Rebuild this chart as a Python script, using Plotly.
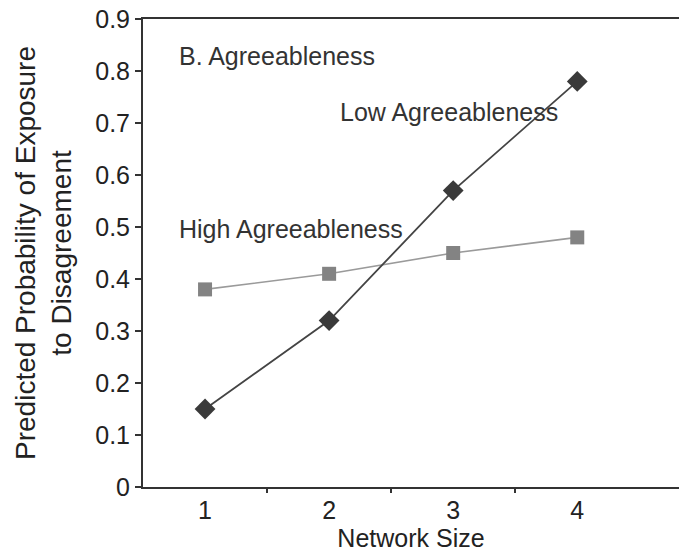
import plotly.graph_objects as go

network_size = [1, 2, 3, 4]
low_agree = [0.15, 0.32, 0.57, 0.78]
high_agree = [0.38, 0.41, 0.45, 0.48]
y_ticks = [0, 0.1, 0.2, 0.3, 0.4, 0.5, 0.6, 0.7, 0.8, 0.9]
y_tick_text = ["0", "0.1", "0.2", "0.3", "0.4", "0.5", "0.6", "0.7", "0.8", "0.9"]

FONT = "Liberation Sans, Arial, sans-serif"

fig = go.Figure()
fig.add_trace(go.Scatter(
    x=network_size, y=high_agree, mode="lines+markers",
    line=dict(color="#9a9a9a", width=1.6),
    marker=dict(symbol="square", size=14, color="#838383"),
    showlegend=False, cliponaxis=False))
fig.add_trace(go.Scatter(
    x=network_size, y=low_agree, mode="lines+markers",
    line=dict(color="#444444", width=1.8),
    marker=dict(symbol="diamond", size=16, color="#3a3a3a"),
    showlegend=False, cliponaxis=False))

ann_font = dict(family=FONT, size=25, color="#333333")
fig.add_annotation(x=0.77, y=0.828, text="B. Agreeableness", showarrow=False,
                   xanchor="left", yanchor="middle", font=ann_font)
fig.add_annotation(x=2.07, y=0.722, text="Low Agreeableness", showarrow=False,
                   xanchor="left", yanchor="middle", font=ann_font)
fig.add_annotation(x=0.77, y=0.497, text="High Agreeableness", showarrow=False,
                   xanchor="left", yanchor="middle", font=ann_font)

fig.update_layout(
    width=679, height=556,
    margin=dict(l=143, r=0, t=19, b=69),
    paper_bgcolor="white", plot_bgcolor="white",
    font=dict(family=FONT, size=25, color="#222222"),
    xaxis=dict(
        range=[0.5, 4.82], tickmode="array", tickvals=network_size,
        ticktext=[str(v) for v in network_size], ticks="", showgrid=False,
        zeroline=False, showline=True, linecolor="#333333", linewidth=2,
        mirror=True,
        minor=dict(tickmode="array", tickvals=[1.5, 2.5, 3.5], ticks="outside",
                   ticklen=4, tickwidth=2, tickcolor="#333333", showgrid=False),
        title=dict(text="Network Size", standoff=4,
                   font=dict(family=FONT, size=25, color="#222222")),
        tickfont=dict(family=FONT, size=25, color="#222222"),
    ),
    yaxis=dict(
        range=[0, 0.9], tickmode="array", tickvals=y_ticks, ticktext=y_tick_text,
        ticks="outside", ticklen=6, tickwidth=2, tickcolor="#333333",
        ticklabeloverflow="allow",
        showgrid=False, zeroline=False, showline=True, linecolor="#333333",
        linewidth=2,
        title=dict(text="Predicted Probability of Exposure<br>to Disagreement",
                   standoff=15, font=dict(family=FONT, size=28, color="#222222")),
        tickfont=dict(family=FONT, size=25, color="#222222"),
    ),
)

fig.write_html(
    "out.html",
    config={"displayModeBar": False},
    post_script="document.body.style.margin='0';document.body.style.overflow='hidden';",
)
